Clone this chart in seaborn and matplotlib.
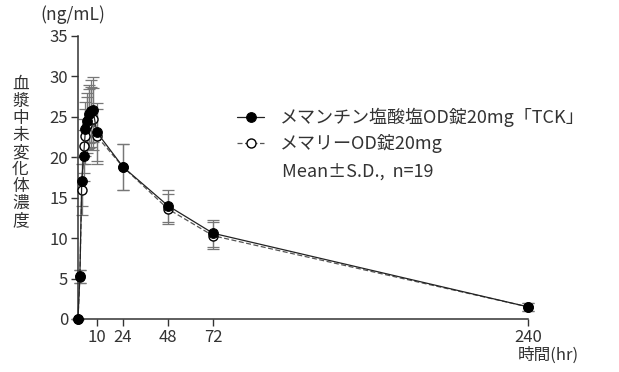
import matplotlib
matplotlib.use("Agg")
import matplotlib.pyplot as plt
import seaborn as sns
import pandas as pd
import numpy as np

sns.set_theme(style="ticks")
plt.rcParams['font.family'] = ['Noto Sans CJK JP', 'DejaVu Sans']

time_hr = [0, 1, 2, 3, 4, 5, 6, 7, 8, 10, 24, 48, 72, 240]
tck_mean = [0, 5.3, 17.0, 20.2, 23.5, 24.5, 25.3, 25.7, 25.9, 23.1, 18.8, 14.0, 10.6, 1.5]
tck_sd = [0, 0.8, 3.0, 3.2, 3.3, 3.5, 3.6, 3.8, 4.0, 3.6, 2.8, 2.0, 1.7, 0.5]
ref_mean = [0, 5.2, 16.0, 21.4, 22.6, 24.0, 24.8, 25.0, 24.7, 22.6, 18.8, 13.6, 10.3, 1.5]
ref_sd = [0, 0.8, 3.2, 3.3, 3.4, 3.5, 3.6, 3.7, 3.8, 3.4, 2.8, 1.9, 1.7, 0.5]
label_tck = "メマンチン塩酸塩OD錠20mg「TCK」"
label_ref = "メマリーOD錠20mg"
xticks = [10, 24, 48, 72, 240]
yticks = [0, 5, 10, 15, 20, 25, 30, 35]

df = pd.DataFrame({
    "t": time_hr * 2,
    "c": tck_mean + ref_mean,
    "g": [label_tck] * len(time_hr) + [label_ref] * len(time_hr),
})

fig = plt.figure(figsize=(6.19, 3.72), dpi=100)
ax = fig.add_axes([0.126, 0.1425, 0.727, 0.761])

ax.errorbar(time_hr, ref_mean, yerr=ref_sd, fmt='none', ecolor='#777777',
            elinewidth=0.9, capsize=4, capthick=0.9, linestyle='--', clip_on=False,
            zorder=2)
ax.errorbar(time_hr, tck_mean, yerr=tck_sd, fmt='none', ecolor='#777777',
            elinewidth=0.9, capsize=4, capthick=0.9, clip_on=False, zorder=2)

sns.lineplot(data=df[df.g == label_ref], x="t", y="c", ax=ax, color='#555555',
             linestyle=(0, (4, 2)), linewidth=0.9, marker='o', markersize=6.5,
             markerfacecolor='white', markeredgecolor='black', markeredgewidth=1.0,
             label=label_ref, clip_on=False, zorder=3)
sns.lineplot(data=df[df.g == label_tck], x="t", y="c", ax=ax, color='#222222',
             linewidth=0.9, marker='o', markersize=7,
             markerfacecolor='black', markeredgecolor='black',
             label=label_tck, clip_on=False, zorder=4)

ax.set_xlim(0, 240)
ax.set_ylim(0, 35)
ax.set_xticks(xticks)
ax.set_yticks(yticks)
ax.set_xlabel("")
ax.set_ylabel("")
for s in ['top', 'right']:
    ax.spines[s].set_visible(False)
for s in ['left', 'bottom']:
    ax.spines[s].set_color('#333333')
    ax.spines[s].set_linewidth(1.1)
ax.tick_params(axis='both', direction='out', length=5, width=1, colors='#333333',
               labelsize=12, labelcolor='#333333', pad=2)

handles, labels = ax.get_legend_handles_labels()
order = [labels.index(label_tck), labels.index(label_ref)]
ax.get_legend().remove()
leg = fig.legend([handles[i] for i in order], [labels[i] for i in order],
                 loc='upper left', bbox_to_anchor=(0.383, 0.71), frameon=False,
                 fontsize=13, handlelength=1.5, handletextpad=0.9, labelspacing=0.4,
                 borderaxespad=0, borderpad=0)
for t in leg.get_texts():
    t.set_color('#333333')

fig.text(0.456, 0.538, "Mean±S.D.,  n=19", fontsize=13, color='#333333',
         ha='left', va='center')

fig.text(0.118, 0.96, "(ng/mL)", fontsize=12.5, color='#333333', ha='center', va='center')
fig.text(0.885, 0.045, "時間(hr)", fontsize=12, color='#333333', ha='center', va='center')
fig.text(0.033, 0.59, "\n".join("血漿中未変化体濃度"), fontsize=12, color='#333333',
         ha='center', va='center', linespacing=1.0)

fig.savefig("out.png", dpi=100)
